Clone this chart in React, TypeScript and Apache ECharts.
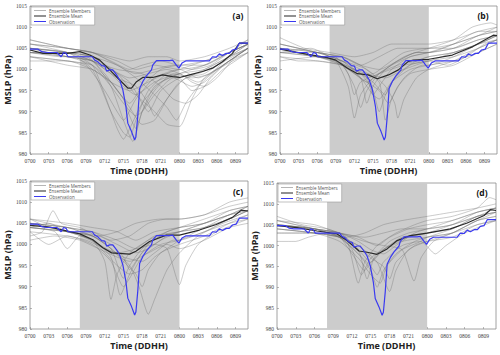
import React, { useEffect, useRef } from "react";
import * as echarts from "echarts";

// hours since 07 00UTC
const observation: number[][] = [
  [0, 1004.8], [1.3, 1004.8], [1.9, 1004.2], [2.7, 1004], [4.3, 1004], [5, 1003], [5.4, 1004], [5.8, 1003.8],
  [6.1, 1003], [8, 1003], [10, 1003], [10.4, 1002.2], [10.9, 1001.8], [11.5, 1000.9], [12, 1000.8], [12.3, 999.6],
  [12.8, 999.9], [13.3, 999.9], [13.9, 998.7], [14.4, 997.5], [14.9, 995.2], [15.4, 991.2], [15.7, 987.3],
  [16.3, 985.3], [16.8, 983.3], [17.0, 984], [17.3, 988.9], [17.6, 995.5], [18.1, 997.1], [18.7, 998.5],
  [19.5, 999.9], [19.7, 1001], [20.3, 1002.1], [22.4, 1002.1], [22.9, 1002.2], [23.5, 1001], [23.9, 1000.3],
  [24.4, 1001.5], [25, 1002], [28.8, 1002], [29.3, 1003], [29.9, 1002.9], [30.4, 1003.7], [30.9, 1003.3],
  [31.5, 1003.8], [32, 1003.8], [32.5, 1004.6], [33.1, 1004.8], [33.6, 1006.2], [35, 1006.2],
];

const meanA: number[][] = [
  [0, 1004.6], [2.1, 1003.8], [6, 1003.8], [8, 1004.2], [9.6, 1003.4], [11.2, 1002.2], [12.8, 999.9], [14.4, 997.5],
  [15.7, 995.6], [16.3, 995.6], [17.1, 997.1], [18.1, 998.1], [19.7, 998.1], [21.3, 998.7], [22.9, 998.3], [24, 998.1],
  [25.6, 998.7], [27.7, 999.5], [29.3, 1000.3], [30.9, 1001.8], [32.5, 1003.8], [33.6, 1006.2], [35, 1006.2],
];
const meanB: number[][] = [
  [0, 1004.8], [2.7, 1004], [6, 1003.2], [7.6, 1002.8], [9, 1002.2], [10.9, 1000.3], [12.5, 999], [14.2, 998.7],
  [15.7, 997.8], [17.5, 998.7], [19.1, 999.9], [20.7, 1001.9], [21.5, 1002.2], [24, 1002.4], [27.8, 1003.4],
  [31.1, 1005.4], [34.4, 1008.1], [35, 1008],
];
const meanC: number[][] = [
  [0, 1004.5], [3.2, 1004.1], [8, 1002.5], [10.1, 1001.1], [11.7, 999.2], [13.1, 998], [16, 997.7], [17, 998.4],
  [19.2, 1000.7], [21.9, 1002.2], [24, 1002.2], [27.2, 1003.4], [29.9, 1004.7], [32.5, 1006.4], [33.9, 1008.1], [35, 1007.9],
];
const meanD: number[][] = [
  [0, 1004.8], [3.2, 1004.3], [6.4, 1003.5], [9.6, 1002.8], [11.2, 1001.2], [13.1, 998.7], [14.4, 998.4], [16, 997.9],
  [17.6, 999.2], [19.2, 1001.2], [21.3, 1002.4], [24, 1003], [27.7, 1004], [30.4, 1005.4], [33.1, 1007.2],
  [34.1, 1008.6], [35, 1008.4],
];

const membersA: number[][][] = [
  [[0, 1006], [6, 1004], [10, 1001], [12, 994], [14, 986], [15, 983.5], [16, 986], [18, 992], [21, 997], [24, 999], [28, 1000], [32, 1003], [35, 1005]],
  [[0, 1005], [6, 1004], [10, 1000], [13, 990], [15, 985], [16, 984], [17, 988], [19, 995], [22, 999], [24, 1000], [28, 1002], [32, 1004], [35, 1006]],
  [[0, 1004], [6, 1003], [10, 1002], [13, 996], [15, 988], [16.5, 983], [18, 990], [20, 996], [24, 999], [28, 1001], [32, 1004], [35, 1006]],
  [[0, 1003], [6, 1002], [10, 1001], [13, 997], [16, 991], [18, 987], [20, 988], [22, 993], [24, 997], [28, 1000], [32, 1003], [35, 1005]],
  [[0, 1005], [6, 1004], [10, 1003], [14, 999], [17, 994], [20, 990], [22, 987], [24, 986.5], [26, 993], [28, 998], [32, 1002], [35, 1005]],
  [[0, 1004], [6, 1004], [10, 1003], [14, 1001], [17, 998], [20, 994], [22, 991], [23.5, 988], [25, 992], [27, 996], [30, 1000], [35, 1005]],
  [[0, 1006], [6, 1005], [10, 1004], [13, 1003], [16, 1002], [19, 1003], [22, 1003], [24, 1002], [28, 1003], [32, 1005], [35, 1007]],
  [[0, 1007], [6, 1005], [10, 1004], [13, 1002], [16, 1000], [18, 1001], [21, 1002], [24, 1001], [28, 1002], [32, 1004], [35, 1006]],
  [[0, 1005], [6, 1003], [10, 1002], [13, 1000], [16, 998], [19, 999], [22, 1000], [24, 999], [27, 997], [29, 999], [32, 1003], [35, 1006]],
  [[0, 1004], [6, 1003], [10, 1001], [13, 996], [15, 992], [17, 989], [18, 990], [20, 994], [23, 998], [26, 996], [28, 997], [31, 1001], [35, 1005]],
  [[0, 1003], [6, 1002], [9, 1001], [12, 995], [14, 990], [15, 988], [17, 993], [20, 998], [24, 1000], [27, 998], [30, 1000], [35, 1004]],
  [[0, 1005], [6, 1004], [10, 1002], [14, 998], [17, 996], [19, 992], [20, 989], [21, 991], [23, 995], [25, 998], [28, 999], [32, 1003], [35, 1006]],
  [[0, 1002], [6, 1002], [10, 1000], [13, 997], [16, 995], [19, 997], [22, 999], [24, 998], [26, 995], [28, 996], [31, 1000], [35, 1004]],
  [[0, 1006], [6, 1005], [10, 1004], [14, 1001], [17, 999], [20, 1000], [23, 1001], [26, 1000], [29, 1001], [32, 1004], [35, 1007]],
  [[0, 1004], [5, 1003], [9, 1003], [12, 999], [14, 995], [16, 992], [18, 996], [21, 1000], [24, 1001], [28, 1001], [32, 1004], [35, 1006]],
  [[0, 1005], [6, 1004], [10, 1003], [13, 1000], [16, 997], [18, 992], [19, 990], [21, 995], [24, 998], [27, 999], [30, 1001], [35, 1005]],
  [[0, 1003], [6, 1001], [10, 1000], [13, 997], [15, 993], [16, 989], [17, 986], [18, 990], [20, 995], [23, 999], [26, 998], [29, 999], [32, 1002], [35, 1005]],
  [[0, 1004], [6, 1004], [10, 1002], [14, 1000], [18, 999], [21, 996], [23, 993], [25, 992], [27, 994], [29, 998], [32, 1002], [35, 1004]],
  [[0, 1005], [6, 1003], [10, 1002], [13, 999], [15, 996], [17, 994], [20, 997], [24, 999], [26, 997], [28, 996], [30, 998], [33, 1003], [35, 1005]],
  [[0, 1007], [6, 1005], [10, 1004], [14, 1002], [17, 1000], [20, 1001], [24, 1000], [28, 1001], [32, 1004], [35, 1006]],
];

const membersB: number[][][] = [
  [[0, 1005], [6, 1003], [9, 1002], [11, 996], [12, 988.5], [13, 994], [15, 998], [18, 1001], [21, 1003], [24, 1004], [28, 1005], [32, 1008], [35, 1009]],
  [[0, 1004], [6, 1003], [10, 1001], [12, 996], [13, 991], [14, 995], [16, 999], [19, 1001], [22, 1002], [24, 1003], [28, 1004], [32, 1006], [35, 1008]],
  [[0, 1006], [6, 1004], [10, 1002], [13, 998], [14, 992], [15, 996], [17, 1000], [20, 1003], [24, 1005], [28, 1007], [31, 1010], [34, 1011], [35, 1010.5]],
  [[0, 1003], [6, 1002], [10, 1001], [13, 999], [15, 995], [16, 990], [17, 994], [19, 999], [22, 1002], [24, 1003], [28, 1004], [32, 1006], [35, 1007]],
  [[0, 1005], [6, 1004], [10, 1002], [13, 1000], [16, 997], [17, 988], [18, 993], [20, 998], [23, 1001], [24, 1001], [28, 1003], [32, 1006], [35, 1008]],
  [[0, 1004], [6, 1003], [10, 1002], [14, 1000], [17, 996], [18.5, 992], [19, 988.5], [20, 993], [22, 998], [24, 1000], [28, 1002], [32, 1005], [35, 1007]],
  [[0, 1007.5], [4, 1005], [8, 1004], [12, 1003], [15, 1004], [18, 1006], [21, 1006], [24, 1006], [28, 1007], [32, 1009], [35, 1010]],
  [[0, 1006], [6, 1004], [10, 1003], [13, 1001], [16, 1003], [19, 1005], [22, 1005], [24, 1005], [28, 1006], [32, 1008], [35, 1009]],
  [[0, 1005], [6, 1003], [10, 1001], [12, 999], [14, 997], [16, 999], [19, 1002], [22, 1004], [24, 1004], [28, 1005], [32, 1007], [35, 1008]],
  [[0, 1003], [3, 1002], [6, 1002], [10, 1001], [13, 998], [15, 994], [16, 993], [18, 997], [21, 1000], [24, 1001], [28, 1002], [32, 1004], [35, 1006]],
  [[0, 1004], [5, 1005], [8, 1003], [11, 1000], [14, 997], [16, 995], [17.5, 992], [19, 996], [21, 999], [24, 1000], [28, 1001], [32, 1004], [35, 1006]],
  [[0, 1005], [6, 1003], [9, 1002], [12, 1000], [14, 998], [15, 994], [16, 996], [18, 1000], [21, 1003], [24, 1004], [28, 1006], [32, 1008], [35, 1010]],
  [[0, 1006], [6, 1004], [10, 1003], [13, 1001], [15, 999], [17, 1001], [20, 1004], [24, 1005], [28, 1005], [32, 1007], [35, 1008]],
  [[0, 1002], [6, 1003], [9, 1002], [12, 1000], [14, 999], [17, 998], [20, 1000], [24, 1002], [28, 1003], [32, 1005], [35, 1007]],
  [[0, 1004], [6, 1004], [9, 1003], [11, 999], [12, 994], [13, 997], [16, 999], [20, 1001], [24, 1002], [28, 1004], [32, 1006], [35, 1008]],
  [[0, 1005], [6, 1004], [10, 1002], [13, 999], [15, 997], [17, 994], [18, 997], [21, 1001], [24, 1002], [27, 1001], [30, 1003], [33, 1006], [35, 1007]],
  [[0, 1005], [6, 1003], [10, 1003], [13, 1001], [16, 1000], [19, 1002], [22, 1004], [24, 1004], [28, 1006], [32, 1009], [35, 1009]],
];

const membersC: number[][][] = [
  [[0, 1006], [3, 1004], [6, 1003], [10, 1001], [12, 996], [13, 987], [14, 993], [16, 998], [19, 1001], [22, 1003], [24, 1004], [28, 1006], [32, 1008], [35, 1009]],
  [[0, 1005], [6, 1003], [10, 1001], [13, 997], [14.5, 988], [16, 993], [18, 998], [21, 1001], [24, 1003], [28, 1005], [32, 1007], [35, 1009]],
  [[0, 1003], [3, 1000], [6, 1002], [10, 1000], [13, 996], [15, 990], [16, 992], [18, 997], [21, 1000], [24, 1001], [28, 1004], [32, 1006], [35, 1008]],
  [[0, 1004], [3, 1005], [6, 1003], [10, 1002], [13, 999], [16, 995], [17.5, 990], [19, 983.5], [20, 987], [22, 994], [24, 998], [27, 1002], [31, 1005], [35, 1007]],
  [[0, 1005], [6, 1004], [10, 1003], [14, 1001], [17, 999], [20, 1000], [22, 999], [24, 990.5], [25, 995], [27, 1000], [30, 1003], [35, 1006]],
  [[0, 1002], [2, 1003], [3.7, 1008], [5, 1005], [8, 1004], [11, 1002], [14, 1003], [17, 1005], [21, 1006], [24, 1006], [28, 1007], [32, 1010], [35, 1011]],
  [[0, 1004], [4, 1003], [6, 999], [8, 1002], [11, 1000], [14, 998], [17, 999], [20, 1002], [24, 1003], [28, 1005], [32, 1007], [35, 1009]],
  [[0, 1006], [6, 1004], [10, 1003], [13, 1001], [16, 1002], [19, 1005], [22, 1006], [24, 1006], [28, 1007], [32, 1009], [35, 1010]],
  [[0, 1004], [6, 1003], [10, 1001], [12, 998], [14, 995], [16, 993], [18, 994], [20, 997], [23, 1000], [24, 1001], [28, 1003], [32, 1006], [35, 1008]],
  [[0, 1003], [6, 1002], [9, 1001], [12, 999], [15, 997], [18, 996], [20, 998], [23, 1001], [24, 1001], [28, 1003], [32, 1005], [35, 1006]],
  [[0, 1005], [6, 1004], [10, 1002], [13, 1000], [15, 997], [16, 994], [17, 996], [19, 1000], [22, 1003], [24, 1004], [28, 1005], [32, 1008], [35, 1009]],
  [[0, 1004], [6, 1003], [10, 1002], [13, 999], [15, 996], [17, 993], [18, 990], [19, 994], [21, 998], [24, 1000], [28, 1002], [32, 1005], [35, 1007]],
  [[0, 1006], [6, 1005], [10, 1004], [14, 1003], [17, 1001], [20, 1003], [24, 1004], [28, 1005], [32, 1007], [35, 1008]],
  [[0, 1001], [4, 1002], [8, 1001], [11, 999], [14, 997], [16, 996], [19, 998], [22, 1000], [24, 999], [28, 1001], [32, 1004], [35, 1005]],
  [[0, 1005], [6, 1004], [10, 1002], [13, 999], [15, 992], [16, 995], [18, 999], [21, 1002], [24, 1003], [28, 1004], [32, 1006], [35, 1008]],
  [[0, 1004], [6, 1003], [11, 1002], [14, 1000], [17, 998], [19, 999], [22, 1002], [24, 1003], [28, 1004], [32, 1007], [35, 1008]],
];

const membersD: number[][][] = [
  [[0, 1007], [4, 1005], [8, 1004], [11, 1002], [13, 991], [14, 996], [16, 1000], [19, 1003], [22, 1005], [24, 1006], [28, 1007], [32, 1009], [34, 1011.5], [35, 1011]],
  [[0, 1006], [6, 1004], [10, 1003], [13, 999], [14.4, 992], [15.5, 997], [18, 1001], [21, 1003], [24, 1004], [28, 1006], [32, 1008], [35, 1009]],
  [[0, 1005], [6, 1004], [10, 1002], [13, 998], [15, 994], [16, 990], [17, 994], [19, 998], [22, 1001], [24, 1002], [28, 1004], [32, 1007], [35, 1008]],
  [[0, 1004], [6, 1003], [10, 1002], [13, 1000], [16, 996], [18, 989], [19, 994], [21, 999], [24, 1001], [28, 1003], [32, 1006], [35, 1008]],
  [[0, 1005], [6, 1004], [10, 1003], [14, 1001], [17, 1000], [20, 999], [21.9, 991.5], [23, 997], [25, 1001], [28, 1003], [32, 1006], [35, 1007]],
  [[0, 1001], [3, 1001], [5, 1002], [8, 1003], [11, 1002], [14, 1003], [17, 1005], [20, 1006], [24, 1007], [28, 1008], [32, 1009], [35, 1010]],
  [[0, 1003], [3, 1003], [6, 1003], [10, 1002], [13, 998], [15, 995], [16, 993], [17, 996], [20, 1000], [23, 1001], [25.3, 998], [27, 1000], [30, 1003], [35, 1006]],
  [[0, 1005], [6, 1004], [10, 1002], [12, 999], [13.5, 993], [15, 997], [18, 1000], [21, 1002], [24, 1003], [28, 1005], [32, 1007], [35, 1009]],
  [[0, 1004], [6, 1003], [10, 1002], [13, 1000], [15, 997], [17, 995], [18, 992], [19, 996], [22, 1000], [24, 1001], [28, 1002], [32, 1005], [35, 1006]],
  [[0, 1006], [6, 1005], [10, 1003], [13, 1002], [16, 1000], [18, 1002], [21, 1004], [24, 1005], [28, 1006], [32, 1008], [35, 1009]],
  [[0, 1004], [6, 1003], [10, 1001], [13, 997], [15, 993], [16.5, 991], [17.5, 995], [20, 999], [23, 1001], [24, 1002], [28, 1003], [32, 1006], [35, 1007]],
  [[0, 1005], [6, 1004], [10, 1003], [13, 1001], [15, 999], [17, 998], [19, 1000], [22, 1003], [24, 1004], [28, 1005], [32, 1008], [35, 1009]],
  [[0, 1003], [6, 1003], [10, 1002], [13, 999], [15, 996], [17, 999], [20, 1001], [24, 1002], [28, 1003], [32, 1005], [35, 1006]],
  [[0, 1005], [6, 1004], [10, 1003], [14, 1002], [17, 1003], [20, 1004], [24, 1004], [28, 1005], [32, 1007], [35, 1008]],
  [[0, 1006], [6, 1004], [10, 1002], [12, 998], [14, 994], [15, 996], [17, 999], [20, 1002], [24, 1003], [28, 1004], [32, 1007], [35, 1008]],
];

const panelLabels = ["(a)", "(b)", "(c)", "(d)"];
const shadeRange = [8, 24];
const seriesNames = ["Ensemble Members", "Ensemble Mean", "Observation"];

const fmtTime = (h: number) => {
  const day = 7 + Math.floor(h / 24);
  const hh = Math.round(h % 24);
  return String(day).padStart(2, "0") + String(hh).padStart(2, "0");
};

export default function App() {
  const ref = useRef<HTMLDivElement>(null);
  useEffect(() => {
    if (!ref.current) return;
    const chart = echarts.init(ref.current, null, { renderer: "svg" });
    const panelMembers = [membersA, membersB, membersC, membersD];
    const panelMeans = [meanA, meanB, meanC, meanD];
    const grids = [
      { left: 30, top: 6, width: 218, height: 148 },
      { left: 280, top: 6, width: 217, height: 148 },
      { left: 30, top: 181, width: 218, height: 148 },
      { left: 277, top: 183, width: 219, height: 146 },
    ];
    const labelPos = [
      [238, 15],
      [483, 15],
      [238, 191],
      [482, 192],
    ];
    const sans = "'Open Sans', 'DejaVu Sans', sans-serif";
    const serif = "'Liberation Serif', 'DejaVu Serif', serif";

    const series: any[] = [];
    panelMembers.forEach((members, i) => {
      members.forEach((m, k) => {
        series.push({
          name: seriesNames[0],
          type: "line",
          xAxisIndex: i,
          yAxisIndex: i,
          data: m,
          symbol: "none",
          smooth: 0.2,
          silent: true,
          z: 2,
          itemStyle: { color: "#b5b5b5" },
          lineStyle: { color: "rgba(110,110,110,0.45)", width: 0.8 },
          markArea:
            k === 0
              ? {
                  silent: true,
                  itemStyle: { color: "#cccccc" },
                  data: [[{ xAxis: shadeRange[0] }, { xAxis: shadeRange[1] }]],
                }
              : undefined,
        });
      });
      series.push({
        name: seriesNames[1],
        type: "line",
        xAxisIndex: i,
        yAxisIndex: i,
        data: panelMeans[i],
        symbol: "none",
        silent: true,
        z: 3,
        itemStyle: { color: "#222222" },
        lineStyle: { color: "#2a2a2a", width: 1.2 },
      });
      series.push({
        name: seriesNames[2],
        type: "line",
        xAxisIndex: i,
        yAxisIndex: i,
        data: observation,
        symbol: "none",
        silent: true,
        z: 4,
        itemStyle: { color: "#3a3af0" },
        lineStyle: { color: "#3a3af0", width: 1.2 },
      });
    });

    chart.setOption({
      animation: false,
      backgroundColor: "#ffffff",
      grid: grids.map((g) => ({
        ...g,
        show: true,
        borderColor: "#8a8a8a",
        borderWidth: 0.8,
        backgroundColor: "transparent",
      })),
      xAxis: grids.map((_, i) => ({
        type: "value",
        gridIndex: i,
        min: 0,
        max: 35,
        interval: 3,
        name: "Time (DDHH)",
        nameLocation: "middle",
        nameGap: 12,
        nameTextStyle: { fontSize: 9, fontWeight: "bold", fontFamily: sans, color: "#222", verticalAlign: "top" },
        axisLine: { show: false },
        axisTick: { show: true, inside: true, length: 2, lineStyle: { color: "#888", width: 0.6 } },
        splitLine: { show: false },
        axisLabel: {
          fontSize: 5.5,
          fontFamily: serif,
          color: "#444",
          margin: 4,
          showMaxLabel: false,
          formatter: (v: number) => fmtTime(v),
        },
      })),
      yAxis: grids.map((_, i) => ({
        type: "value",
        gridIndex: i,
        min: 980,
        max: 1015,
        interval: 5,
        name: "MSLP (hPa)",
        nameLocation: "middle",
        nameGap: 16,
        nameTextStyle: { fontSize: 9, fontWeight: "bold", fontFamily: sans, color: "#222" },
        axisLine: { show: false },
        axisTick: { show: true, inside: true, length: 2, lineStyle: { color: "#888", width: 0.6 } },
        splitLine: { show: false },
        axisLabel: {
          fontSize: 5.5,
          fontFamily: serif,
          color: "#444",
          margin: 3,
          formatter: (v: number) => String(v),
        },
      })),
      legend: grids.map((g) => ({
        left: g.left + 1,
        top: g.top + 1,
        orient: "vertical",
        data: seriesNames,
        icon: "rect",
        itemWidth: 12,
        itemHeight: 1,
        itemGap: 0.5,
        padding: [1, 4, 1, 3],
        backgroundColor: "#ffffff",
        borderColor: "#999999",
        borderWidth: 0.6,
        selectedMode: false,
        itemStyle: { borderWidth: 0 },
        lineStyle: { width: 0 },
        textStyle: { fontSize: 4.5, color: "#555", fontFamily: sans, padding: [0, 0, 0, -2], lineHeight: 5 },
      })),
      graphic: labelPos.map((p, i) => ({
        type: "text",
        x: p[0],
        y: p[1],
        style: {
          text: panelLabels[i],
          fontSize: 8.5,
          fontWeight: "bold",
          fontFamily: sans,
          fill: "#111",
          textAlign: "center",
          textVerticalAlign: "middle",
        },
        z: 10,
      })),
      series,
    });
    return () => chart.dispose();
  }, []);
  return <div ref={ref} style={{ position: "absolute", left: 0, top: 0, width: 500, height: 355 }} />;
}
